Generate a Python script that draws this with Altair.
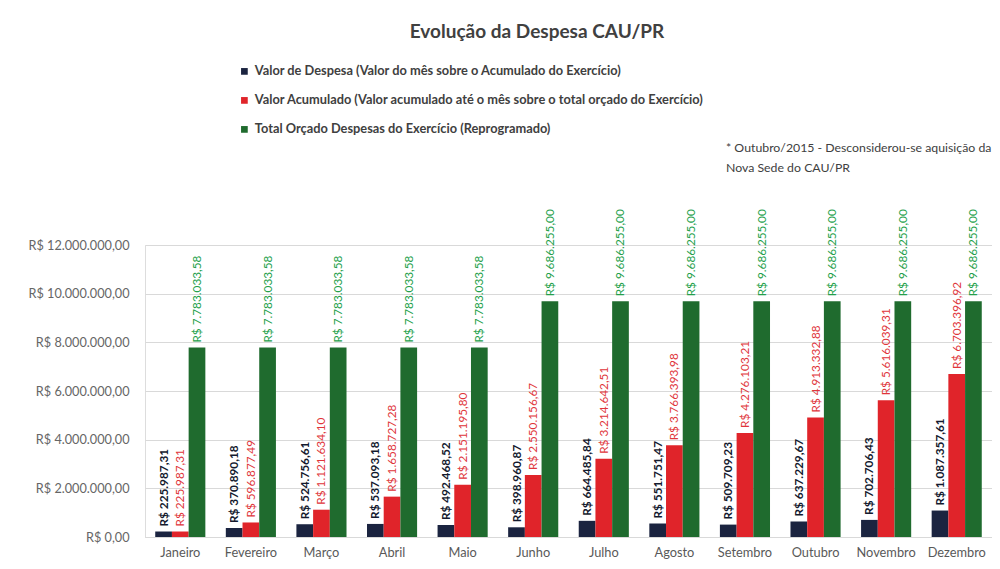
import altair as alt
import pandas as pd

months = ["Janeiro", "Fevereiro", "Março", "Abril", "Maio", "Junho", "Julho",
          "Agosto", "Setembro", "Outubro", "Novembro", "Dezembro"]
despesa = [225987.31, 370890.18, 524756.61, 537093.18, 492468.52, 398960.87,
           664485.84, 551751.47, 509709.23, 637229.67, 702706.43, 1087357.61]
acumulado = [225987.31, 596877.49, 1121634.10, 1658727.28, 2151195.80, 2550156.67,
             3214642.51, 3766393.98, 4276103.21, 4913332.88, 5616039.31, 6703396.92]
orcado = [7783033.58, 7783033.58, 7783033.58, 7783033.58, 7783033.58, 9686255.00,
          9686255.00, 9686255.00, 9686255.00, 9686255.00, 9686255.00, 9686255.00]
series_names = [
    "Valor de Despesa (Valor do mês sobre o Acumulado do Exercício)",
    "Valor Acumulado (Valor acumulado até o mês sobre o total orçado do Exercício)",
    "Total Orçado Despesas do Exercício (Reprogramado)",
]
bar_colors = ["#1b2440", "#e0242a", "#1f6b2e"]
text_colors = ["#141a2e", "#e0353a", "#23a04a"]
y_ticks = [0, 2000000, 4000000, 6000000, 8000000, 10000000, 12000000]
title_text = "Evolução da Despesa CAU/PR"
note_lines = ["* Outubro/2015 - Desconsiderou-se aquisição da", "Nova Sede do CAU/PR"]

rows = []
for i, m in enumerate(months):
    for s, vals in zip(series_names, [despesa, acumulado, orcado]):
        rows.append({"mes": m, "serie": s, "valor": vals[i]})
df = pd.DataFrame(rows)

FONT = "Lato"

x_enc = alt.X("mes:N", sort=months, title=None,
              scale=alt.Scale(paddingInner=0.29, paddingOuter=0.145),
              axis=alt.Axis(labelAngle=0, labelFontSize=12.8, labelColor="#595959",
                            labelFont=FONT, ticks=False, domainColor="#d9d9d9",
                            labelPadding=9))
xoff = alt.XOffset("serie:N", sort=series_names,
                   scale=alt.Scale(domain=series_names, paddingInner=0, paddingOuter=0))
y_enc = alt.Y("valor:Q", title=None,
              scale=alt.Scale(domain=[0, 12000000], nice=False),
              axis=alt.Axis(values=y_ticks, format="$,.2f", labelFontSize=12.7,
                            labelColor="#666666", labelFont=FONT, ticks=False,
                            domain=False, gridColor="#d9d9d9", labelPadding=16))

base = alt.Chart(df)

bars = base.mark_bar().encode(
    x=x_enc, xOffset=xoff, y=y_enc,
    color=alt.Color("serie:N", sort=series_names,
                    scale=alt.Scale(domain=series_names, range=bar_colors),
                    legend=alt.Legend(title=None, orient="none", legendX=93, legendY=-180,
                                      direction="vertical", symbolType="square",
                                      symbolSize=45, labelFontSize=12.8, labelFont=FONT,
                                      labelColor="#404040", labelFontWeight="bold",
                                      labelLimit=700, rowPadding=15)),
)

text_color = alt.Color("serie:N", scale=alt.Scale(domain=series_names, range=text_colors),
                       legend=None)
lab_bold = base.transform_filter(alt.datum.serie == series_names[0]).mark_text(
    angle=270, align="left", baseline="middle", dx=5, fontSize=11.8, font=FONT,
    fontWeight="bold").encode(
    x=x_enc, xOffset=xoff, y=y_enc,
    text=alt.Text("valor:Q", format="$,.2f"), color=text_color,
)
lab_norm = base.transform_filter(alt.datum.serie != series_names[0]).mark_text(
    angle=270, align="left", baseline="middle", dx=5, fontSize=11.8, font=FONT).encode(
    x=x_enc, xOffset=xoff, y=y_enc,
    text=alt.Text("valor:Q", format="$,.2f"), color=text_color,
)

title = alt.Chart(pd.DataFrame({"t": [title_text]})).mark_text(
    align="center", baseline="middle", fontSize=19, font=FONT, fontWeight="bold",
    color="#404040").encode(x=alt.value(392), y=alt.value(-213), text="t:N")
note1 = alt.Chart(pd.DataFrame({"t": [note_lines[0]]})).mark_text(
    align="left", baseline="middle", fontSize=12.3, font=FONT, color="#404040").encode(
    x=alt.value(581), y=alt.value(-97), text="t:N")
note2 = alt.Chart(pd.DataFrame({"t": [note_lines[1]]})).mark_text(
    align="left", baseline="middle", fontSize=12.3, font=FONT, color="#404040").encode(
    x=alt.value(581), y=alt.value(-77), text="t:N")

chart = alt.layer(bars, lab_bold, lab_norm, title, note1, note2).resolve_scale(
    color="independent"
).properties(
    width=847, height=292,
    autosize=alt.AutoSizeParams(type="none"),
    padding={"left": 137, "top": 237, "right": 0, "bottom": 24},
).configure_view(stroke=None).configure(
    locale={"number": {"decimal": ",", "thousands": ".", "grouping": [3],
                       "currency": ["R$ ", ""]}}
)

chart.save("out.html", embed_options={"renderer": "svg", "actions": False})
